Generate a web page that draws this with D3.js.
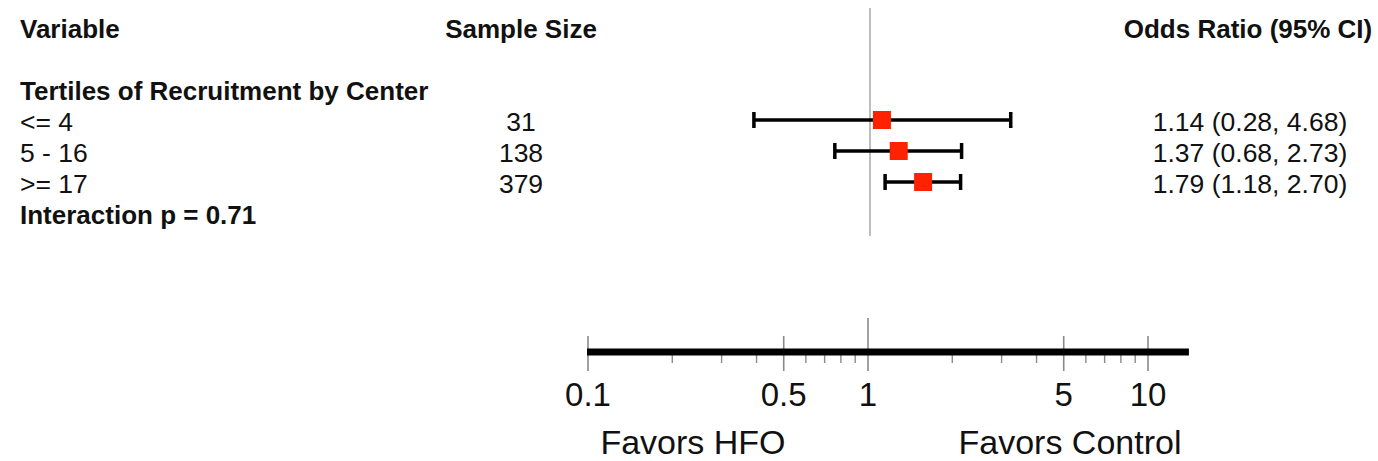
<!DOCTYPE html>
<html>
<head>
<meta charset="utf-8">
<script src="https://cdn.jsdelivr.net/npm/d3@7"></script>
<style>
  html, body { margin: 0; padding: 0; background: #fff; }
  svg { display: block; }
  text { font-family: "Liberation Sans", Arial, sans-serif; fill: #111; }
</style>
</head>
<body>
<svg id="chart" width="1378" height="461"></svg>
<script>
// ---- data ----
const groupTitle = "Tertiles of Recruitment by Center";
const categories = ["<= 4", "5 - 16", ">= 17"];
const sampleSizes = [31, 138, 379];
const oddsRatios = [1.14, 1.37, 1.79];
const ciLower = [0.28, 0.68, 1.18];
const ciUpper = [4.68, 2.73, 2.70];
const interactionText = "Interaction p = 0.71";
const headers = ["Variable", "Sample Size", "Odds Ratio (95% CI)"];
const tickLabels = [0.1, 0.5, 1, 5, 10];
const minorTicks = [0.2, 0.3, 0.4, 0.6, 0.7, 0.8, 0.9, 2, 3, 4, 6, 7, 8, 9];
const axisMax = 14;
const favorLabels = ["Favors HFO", "Favors Control"];

// ---- drawing ----
const svg = d3.select("#chart");
const boldSize = "26px";
const regSize = "26.5px";

// scales
const xTop = d3.scaleLog().domain([0.1, 10]).range([660, 1080]);
const xBot = d3.scaleLog().domain([0.1, 10]).range([588, 1148]);
const rowY = d3.scalePoint().domain(categories).range([120, 182]);

// headers
const hdrY = 38;
svg.append("text").attr("x", 20).attr("y", hdrY)
  .style("font-weight", "bold").style("font-size", boldSize).text(headers[0]);
svg.append("text").attr("x", 521).attr("y", hdrY).attr("text-anchor", "middle")
  .style("font-weight", "bold").style("font-size", boldSize).text(headers[1]);
svg.append("text").attr("x", 1248).attr("y", hdrY).attr("text-anchor", "middle")
  .style("font-weight", "bold").style("font-size", boldSize).text(headers[2]);

// group title
svg.append("text").attr("x", 20).attr("y", 100)
  .style("font-weight", "bold").style("font-size", boldSize).text(groupTitle);

// reference line (top panel)
svg.append("line")
  .attr("x1", xTop(1)).attr("x2", xTop(1))
  .attr("y1", 8).attr("y2", 236)
  .attr("stroke", "#bdbdbd").attr("stroke-width", 2);

// rows
const rows = svg.append("g").selectAll("g").data(categories).join("g");
const textOffset = 11;

rows.append("text")
  .attr("x", 20).attr("y", d => rowY(d) + textOffset)
  .style("font-size", regSize).text(d => d);

rows.append("text")
  .attr("x", 521).attr("y", d => rowY(d) + textOffset).attr("text-anchor", "middle")
  .style("font-size", regSize).text((d, i) => sampleSizes[i]);

rows.append("text")
  .attr("x", 1250).attr("y", d => rowY(d) + textOffset).attr("text-anchor", "middle")
  .style("font-size", regSize)
  .text((d, i) => `${oddsRatios[i].toFixed(2)} (${ciLower[i].toFixed(2)}, ${ciUpper[i].toFixed(2)})`);

// CI lines
rows.append("line")
  .attr("x1", (d, i) => xTop(ciLower[i])).attr("x2", (d, i) => xTop(ciUpper[i]))
  .attr("y1", d => rowY(d)).attr("y2", d => rowY(d))
  .attr("stroke", "#000").attr("stroke-width", 3.5);
// caps
["lo", "hi"].forEach(side => {
  rows.append("line")
    .attr("x1", (d, i) => xTop(side === "lo" ? ciLower[i] : ciUpper[i]))
    .attr("x2", (d, i) => xTop(side === "lo" ? ciLower[i] : ciUpper[i]))
    .attr("y1", d => rowY(d) - 8).attr("y2", d => rowY(d) + 8)
    .attr("stroke", "#000").attr("stroke-width", 3.5);
});
// point estimates
const sq = 18;
rows.append("rect")
  .attr("x", (d, i) => xTop(oddsRatios[i]) - sq / 2)
  .attr("y", d => rowY(d) - sq / 2)
  .attr("width", sq).attr("height", sq)
  .attr("fill", "#ff2200");

// interaction
svg.append("text").attr("x", 20).attr("y", 224)
  .style("font-weight", "bold").style("font-size", boldSize).text(interactionText);

// ---- bottom axis ----
const axisY = 352;
const axisG = svg.append("g");
// major ticks
axisG.selectAll("line.major").data(tickLabels).join("line")
  .attr("class", "major")
  .attr("x1", d => xBot(d)).attr("x2", d => xBot(d))
  .attr("y1", d => d === 1 ? 318 : 336).attr("y2", 371)
  .attr("stroke", "#8a8a8a").attr("stroke-width", 1.6);
// minor ticks
axisG.selectAll("line.minor").data(minorTicks).join("line")
  .attr("class", "minor")
  .attr("x1", d => xBot(d)).attr("x2", d => xBot(d))
  .attr("y1", axisY).attr("y2", 363)
  .attr("stroke", "#8a8a8a").attr("stroke-width", 1.4);
// axis line
axisG.append("line")
  .attr("x1", xBot(0.1) - 1).attr("x2", xBot(axisMax))
  .attr("y1", axisY).attr("y2", axisY)
  .attr("stroke", "#000").attr("stroke-width", 7);
// tick labels
axisG.selectAll("text.tick").data(tickLabels).join("text")
  .attr("class", "tick")
  .attr("x", d => xBot(d)).attr("y", 406).attr("text-anchor", "middle")
  .style("font-size", "33px").text(d => String(d));

// favors labels
svg.append("text").attr("x", 693).attr("y", 454).attr("text-anchor", "middle")
  .style("font-size", "34px").text(favorLabels[0]);
svg.append("text").attr("x", 1070).attr("y", 454).attr("text-anchor", "middle")
  .style("font-size", "34px").text(favorLabels[1]);
</script>
</body>
</html>
